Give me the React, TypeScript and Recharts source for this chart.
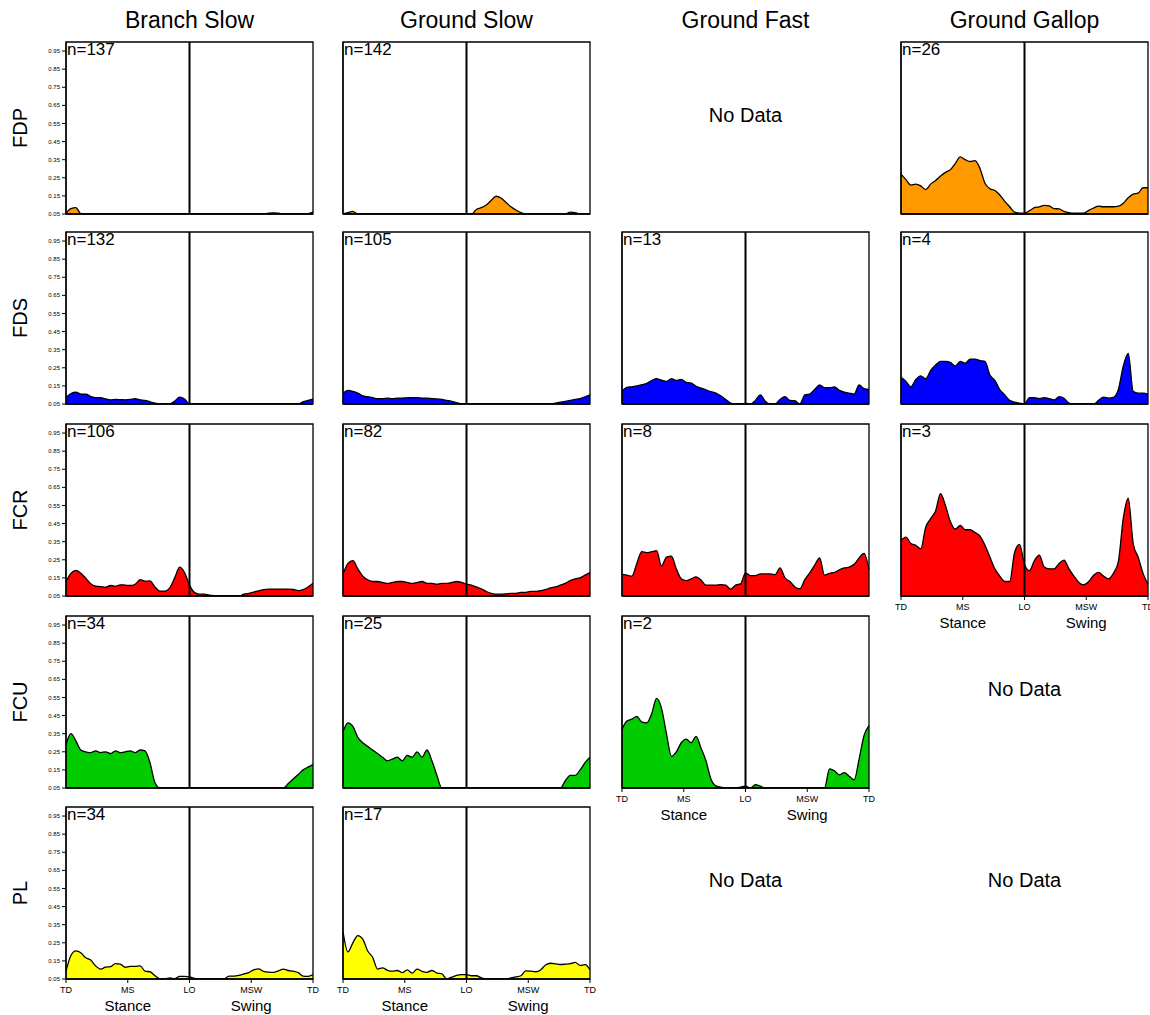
import React from 'react';
import { AreaChart, Area, XAxis, YAxis, ReferenceLine, ReferenceArea } from 'recharts';

const CONDITIONS = ['Branch Slow', 'Ground Slow', 'Ground Fast', 'Ground Gallop'];
const MUSCLES = ['FDP', 'FDS', 'FCR', 'FCU', 'PL'];
const FILL_COLORS = ['#FF9900', '#0000FF', '#FF0000', '#00CC00', '#FFFF00'];
const STRIDE_PCT = Array.from({ length: 51 }, (_, i) => i * 2);
const Y_TICKS = [0.05, 0.15, 0.25, 0.35, 0.45, 0.55, 0.65, 0.75, 0.85, 0.95];
const EVENT_TICKS = [0, 25, 50, 75, 100];
const EVENT_LABELS = ['TD', 'MS', 'LO', 'MSW', 'TD'];
const PHASE_TICKS = [25, 75];
const PHASE_LABELS = ['Stance', 'Swing'];

const N_FDP = [137, 142, null, 26];
const N_FDS = [132, 105, 13, 4];
const N_FCR = [106, 82, 8, 3];
const N_FCU = [34, 25, 2, null];
const N_PL = [34, 17, null, null];

const FDP_BS = [.055, .08, .085, .052, .05, .05, .05, .05, .05, .05,
  .05, .05, .05, .05, .05, .05, .05, .05, .05, .05,
  .05, .05, .05, .05, .05, .05, .05, .05, .05, .05,
  .05, .05, .05, .05, .05, .05, .05, .05, .05, .05,
  .05, .055, .056, .055, .05, .05, .05, .05, .05, .052,
  .06];
const FDP_GS = [.05, .058, .065, .05, .05, .05, .05, .05, .05, .05,
  .05, .05, .05, .05, .05, .05, .05, .05, .05, .05,
  .05, .05, .05, .05, .05, .05, .05, .075, .085, .10,
  .125, .148, .138, .113, .09, .072, .058, .05, .05, .05,
  .05, .05, .05, .05, .05, .05, .06, .058, .05, .05,
  .05];
const FDP_GG = [.27, .24, .21, .215, .205, .185, .215, .235, .26, .28,
  .295, .33, .365, .35, .34, .345, .30, .22, .19, .18,
  .155, .12, .09, .06, .055, .055, .068, .085, .09, .098,
  .095, .08, .078, .065, .058, .055, .055, .055, .07, .083,
  .093, .09, .09, .09, .093, .11, .14, .16, .165, .195,
  .195];

const FDS_BS = [.087, .108, .115, .105, .105, .092, .085, .085, .078, .073,
  .075, .074, .073, .075, .079, .073, .07, .062, .055, .05,
  .05, .05, .066, .088, .077, .05, .05, .05, .05, .05,
  .05, .05, .05, .05, .05, .05, .05, .05, .05, .05,
  .05, .05, .05, .05, .05, .05, .05, .05, .063, .07,
  .077];
const FDS_GS = [.11, .125, .12, .11, .095, .09, .085, .08, .08, .082,
  .08, .082, .083, .084, .085, .085, .083, .082, .08, .078,
  .075, .07, .065, .058, .05, .05, .05, .05, .05, .05,
  .05, .05, .05, .05, .05, .05, .05, .05, .05, .05,
  .05, .05, .05, .055, .06, .065, .07, .075, .08, .09,
  .1];
const FDS_GF = [.12, .142, .145, .15, .157, .164, .18, .19, .182, .175,
  .19, .18, .186, .17, .165, .148, .138, .128, .118, .11,
  .095, .075, .055, .05, .05, .053, .05, .07, .1, .065,
  .05, .05, .075, .09, .07, .068, .05, .1, .105, .13,
  .155, .14, .14, .145, .125, .115, .11, .105, .155, .135,
  .13];
const FDS_GG = [.197, .175, .145, .185, .205, .19, .235, .265, .285, .285,
  .28, .26, .285, .275, .298, .298, .29, .285, .21, .18,
  .13, .10, .07, .06, .055, .05, .085, .085, .08, .085,
  .08, .072, .09, .082, .055, .05, .05, .05, .05, .05,
  .07, .088, .083, .087, .13, .26, .33, .12, .11, .11,
  .105];

const FCR_BS = [.13, .175, .192, .175, .148, .118, .105, .102, .098, .108,
  .104, .112, .11, .108, .115, .14, .132, .133, .10, .077,
  .077, .095, .15, .21, .18, .11, .07, .06, .06, .055,
  .052, .05, .05, .05, .05, .05, .06, .065, .072, .078,
  .085, .088, .088, .088, .088, .088, .086, .08, .085, .1,
  .12];
const FCR_GS = [.17, .23, .245, .2, .16, .14, .13, .13, .125, .12,
  .125, .13, .13, .125, .12, .125, .13, .12, .12, .115,
  .12, .12, .125, .13, .125, .115, .11, .1, .09, .075,
  .065, .06, .06, .062, .065, .065, .07, .07, .075, .075,
  .08, .085, .095, .1, .11, .12, .135, .145, .15, .165,
  .18];
const FCR_GF = [.17, .165, .16, .23, .295, .29, .295, .30, .215, .265,
  .27, .20, .145, .135, .145, .156, .138, .11, .11, .11,
  .113, .11, .088, .11, .117, .178, .163, .163, .172, .172,
  .172, .168, .205, .15, .13, .1, .09, .14, .178, .22,
  .26, .165, .175, .18, .195, .205, .21, .225, .26, .285,
  .196];
const FCR_GG = [.356, .375, .34, .33, .31, .43, .477, .52, .615, .55,
  .46, .42, .44, .416, .416, .40, .38, .33, .265, .2,
  .16, .13, .13, .29, .335, .224, .19, .245, .275, .21,
  .2, .2, .23, .248, .2, .16, .125, .112, .13, .165,
  .18, .16, .145, .175, .24, .48, .59, .34, .265, .175,
  .114];

const FCU_BS = [.29, .35, .31, .26, .25, .245, .255, .245, .25, .24,
  .255, .245, .25, .255, .245, .26, .255, .19, .08, .05,
  .05, .05, .05, .05, .05, .05, .05, .05, .05, .05,
  .05, .05, .05, .05, .05, .05, .05, .05, .05, .05,
  .05, .05, .05, .05, .05, .075, .1, .125, .15, .165,
  .18];
const FCU_GS = [.36, .41, .39, .33, .3, .28, .26, .24, .22, .2,
  .21, .22, .2, .23, .22, .25, .22, .26, .2, .12,
  .05, .05, .05, .05, .05, .05, .05, .05, .05, .05,
  .05, .05, .05, .05, .05, .05, .05, .05, .05, .05,
  .05, .05, .05, .05, .05, .09, .12, .12, .15, .19,
  .22];
const FCU_GF = [.375, .42, .43, .445, .415, .41, .46, .545, .49, .35,
  .225, .25, .3, .32, .3, .335, .27, .2, .1, .062,
  .055, .05, .05, .05, .055, .06, .05, .068, .06, .05,
  .05, .05, .05, .05, .05, .05, .05, .05, .05, .05,
  .05, .05, .156, .145, .123, .135, .115, .095, .21, .34,
  .395];

const PL_BS = [.093, .18, .205, .195, .167, .155, .122, .105, .115, .118,
  .135, .132, .115, .12, .12, .123, .093, .09, .068, .052,
  .05, .056, .052, .065, .065, .062, .053, .05, .05, .05,
  .05, .05, .05, .066, .066, .07, .078, .085, .1, .106,
  .092, .088, .087, .095, .104, .097, .093, .085, .066, .065,
  .075];
const PL_GS = [.312, .2, .25, .29, .27, .205, .17, .105, .112, .098,
  .093, .097, .085, .1, .082, .105, .092, .087, .097, .083,
  .079, .05, .06, .07, .074, .074, .068, .068, .056, .05,
  .05, .05, .05, .05, .056, .062, .068, .095, .093, .09,
  .1, .127, .137, .134, .13, .132, .135, .142, .125, .129,
  .101];

const GRID = [
  [FDP_BS, FDP_GS, null, FDP_GG],
  [FDS_BS, FDS_GS, FDS_GF, FDS_GG],
  [FCR_BS, FCR_GS, FCR_GF, FCR_GG],
  [FCU_BS, FCU_GS, FCU_GF, null],
  [PL_BS, PL_GS, null, null],
];
const N_GRID = [N_FDP, N_FDS, N_FCR, N_FCU, N_PL];

// layout
const COL_LEFT = [66, 343, 622, 901];
const ROW_TOP = [42, 232, 424, 616, 807];
const PW = 247;
const PH = 172;
const YW = 40;
const MT = 3;
const MR = 14;
const FONT = '"Liberation Sans", Arial, Helvetica, sans-serif';

function Panel({ values, color, n, showY, showX, left, top }: any) {
  const data = STRIDE_PCT.map((x, i) => ({ x, v: values[i] }));
  const xH = showX ? 15 : 6;
  const lblH = showX ? 22 : 0;
  const W = YW + PW + MR;
  const H = MT + PH + xH + lblH;
  return (
    <div style={{ position: 'absolute', left: left - YW, top: top - MT, width: W, height: H }}>
      <AreaChart width={W} height={H} data={data} margin={{ top: MT, right: MR, left: 0, bottom: 0 }}>
        <XAxis
          xAxisId="a"
          dataKey="x"
          type="number"
          domain={[0, 100]}
          ticks={EVENT_TICKS}
          interval={0}
          height={xH}
          tickSize={4}
          tickMargin={4}
          axisLine={{ stroke: '#000', strokeWidth: 1.3 }}
          tickLine={{ stroke: '#000' }}
          tick={showX ? { fontSize: 9, fill: '#000' } : false}
          tickFormatter={(v: number, i: number) => EVENT_LABELS[i]}
        />
        {showX && (
          <XAxis
            xAxisId="b"
            dataKey="x"
            type="number"
            domain={[0, 100]}
            ticks={PHASE_TICKS}
            interval={0}
            height={lblH}
            tickSize={0}
            tickMargin={6}
            axisLine={false}
            tickLine={false}
            tick={{ fontSize: 15, fill: '#000' }}
            tickFormatter={(v: number, i: number) => PHASE_LABELS[i]}
          />
        )}
        <YAxis
          type="number"
          domain={[0.05, 1]}
          ticks={Y_TICKS}
          interval={0}
          width={YW}
          tickSize={4}
          tickMargin={2}
          allowDataOverflow
          axisLine={{ stroke: '#000', strokeWidth: 1.3 }}
          tickLine={{ stroke: '#000' }}
          tick={showY ? { fontSize: 6, fill: '#000' } : false}
          tickFormatter={(v: number) => v.toFixed(2)}
        />
        <Area
          xAxisId="a"
          dataKey="v"
          type="monotone"
          baseValue={0.05}
          fill={color}
          fillOpacity={1}
          stroke="#000"
          strokeWidth={1.3}
          dot={false}
          activeDot={false}
          isAnimationActive={false}
        />
        <ReferenceLine xAxisId="a" x={50} stroke="#000" strokeWidth={2} />
        <ReferenceArea xAxisId="a" x1={0} x2={100} y1={0.05} y2={1} fill="none" stroke="#000" strokeWidth={1.3} />
      </AreaChart>
      <div style={{ position: 'absolute', left: YW + 1, top: MT - 1, fontSize: 17, lineHeight: 1, color: '#000' }}>
        n={n}
      </div>
    </div>
  );
}

export default function App() {
  const lastRow = CONDITIONS.map((_, c) => {
    let r = -1;
    GRID.forEach((row, ri) => { if (row[c]) r = ri; });
    return r;
  });
  return (
    <div style={{ position: 'absolute', left: 0, top: 0, width: 1150, height: 1015, overflow: 'hidden', background: '#fff', fontFamily: FONT, color: '#000' }}>
      {CONDITIONS.map((c, ci) => (
        <div key={c} style={{ position: 'absolute', left: COL_LEFT[ci] + PW / 2, top: 20, transform: 'translate(-50%, -50%)', fontSize: 23, lineHeight: 1, whiteSpace: 'nowrap' }}>
          {c}
        </div>
      ))}
      {MUSCLES.map((m, ri) => (
        <div key={m} style={{ position: 'absolute', left: 20, top: ROW_TOP[ri] + PH / 2, transform: 'translate(-50%, -50%) rotate(-90deg)', fontSize: 20, lineHeight: 1, whiteSpace: 'nowrap' }}>
          {m}
        </div>
      ))}
      {GRID.map((row, ri) =>
        row.map((vals, ci) =>
          vals ? (
            <Panel
              key={`${ri}-${ci}`}
              values={vals}
              color={FILL_COLORS[ri]}
              n={N_GRID[ri][ci]}
              showY={ci === 0}
              showX={lastRow[ci] === ri}
              left={COL_LEFT[ci]}
              top={ROW_TOP[ri]}
            />
          ) : (
            <div key={`${ri}-${ci}`} style={{ position: 'absolute', left: COL_LEFT[ci] + PW / 2, top: ROW_TOP[ri] + 73, transform: 'translate(-50%, -50%)', fontSize: 20, lineHeight: 1, whiteSpace: 'nowrap' }}>
              No Data
            </div>
          )
        )
      )}
    </div>
  );
}
